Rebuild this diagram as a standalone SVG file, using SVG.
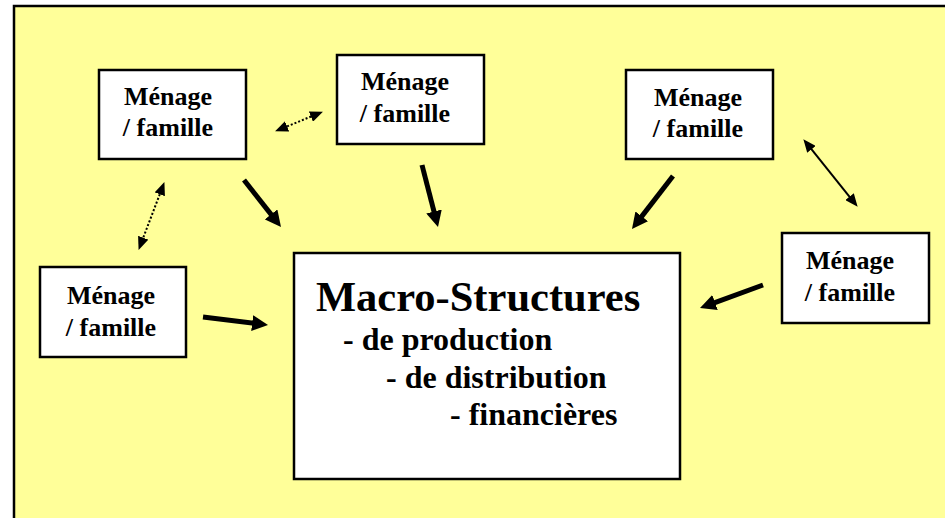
<svg xmlns="http://www.w3.org/2000/svg" width="945" height="518" viewBox="0 0 945 518">
<style>
.bg{fill:#FFFF99;stroke:#000;stroke-width:2.5}
.box{fill:#fff;stroke:#000;stroke-width:2.5}
.lbl{font-family:"Liberation Serif","Times New Roman",serif;font-weight:bold;font-size:26px;fill:#000;text-anchor:middle}
.big{font-family:"Liberation Serif","Times New Roman",serif;font-weight:bold;fill:#000}
.thick{stroke:#000;stroke-width:5;fill:none;marker-end:url(#hThick)}
.thin{stroke:#000;stroke-width:2;fill:none;marker-start:url(#hThin);marker-end:url(#hThin)}
.dot{stroke-dasharray:2 2}
</style>
<defs>
<marker id="hThick" markerUnits="userSpaceOnUse" markerWidth="16" markerHeight="16" refX="6" refY="8" orient="auto"><path d="M0,0 L16,8 L0,16 z" fill="#000"/></marker>
<marker id="hThin" markerUnits="userSpaceOnUse" markerWidth="13" markerHeight="11" refX="4" refY="5.5" orient="auto-start-reverse"><path d="M0,0 L13,5.5 L0,11 z" fill="#000"/></marker>
</defs>
<rect x="0" y="0" width="945" height="518" fill="#fff"/>
<rect class="bg" x="14" y="6" width="945" height="530"/>
<g id="node-tl"><rect class="box" x="99" y="70" width="147" height="89"/><text class="lbl" x="168" y="105">Ménage</text><text class="lbl" x="168" y="136">/ famille</text></g>
<g id="node-tm"><rect class="box" x="337" y="55" width="147" height="89"/><text class="lbl" x="405" y="90">Ménage</text><text class="lbl" x="405" y="122">/ famille</text></g>
<g id="node-tr"><rect class="box" x="626" y="70" width="147" height="89"/><text class="lbl" x="698" y="106">Ménage</text><text class="lbl" x="698" y="137">/ famille</text></g>
<g id="node-r"><rect class="box" x="782" y="233" width="147" height="90"/><text class="lbl" x="850" y="269">Ménage</text><text class="lbl" x="850" y="301">/ famille</text></g>
<g id="node-l"><rect class="box" x="40" y="267" width="146" height="90"/><text class="lbl" x="111" y="304">Ménage</text><text class="lbl" x="111" y="336">/ famille</text></g>
<g id="node-main"><rect class="box" x="294" y="253" width="386" height="226"/>
<text class="big" x="316" y="311" font-size="42.5">Macro-Structures</text>
<text class="big" x="343" y="350" font-size="32">- de production</text>
<text class="big" x="386" y="388" font-size="32">- de distribution</text>
<text class="big" x="450" y="425" font-size="32">- financières</text></g>
<g id="connectors">
<line class="thick" x1="244" y1="180" x2="274.8" y2="219.1"/>
<line class="thick" x1="422" y1="165" x2="435.5" y2="217.3"/>
<line class="thick" x1="673" y1="176" x2="638.1" y2="221.1"/>
<line class="thick" x1="763" y1="285" x2="709.4" y2="304.6"/>
<line class="thick" x1="203" y1="317" x2="258.1" y2="323.8"/>
<line class="thin dot" x1="283.4" y1="127.9" x2="314.6" y2="115.1"/>
<line class="thin dot" x1="161.2" y1="190.5" x2="141.8" y2="241.5"/>
<line class="thin" x1="809" y1="146.2" x2="852" y2="199.8"/>
</g>
</svg>
